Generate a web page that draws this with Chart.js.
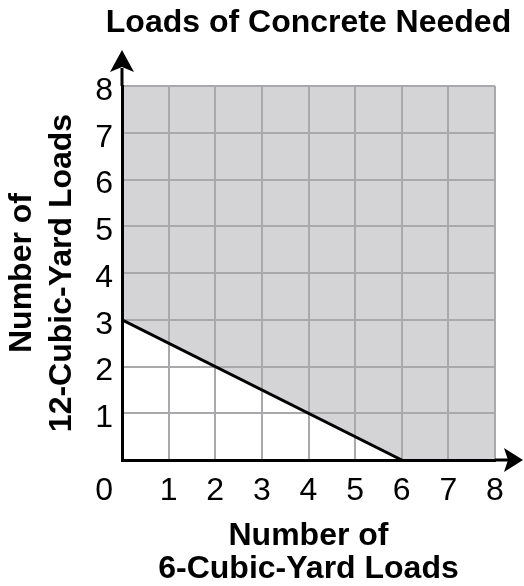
<!DOCTYPE html>
<html>
<head>
<meta charset="utf-8">
<script src="https://cdn.jsdelivr.net/npm/chart.js@4"></script>
<style>
  html, body { margin: 0; padding: 0; background: #fff; }
  #wrap { width: 524px; height: 586px; }
</style>
</head>
<body>
<div id="wrap"><canvas id="chart" width="524" height="586"></canvas></div>
<script>
// boundary of the shaded region: x = 6-yd loads, y = 12-yd loads
const regionX = [0, 6, 8];
const regionY = [3, 0, 0];
const lineX = [0, 6];
const lineY = [3, 0];
const xTicks = [0, 1, 2, 3, 4, 5, 6, 7, 8];
const yTicks = [0, 1, 2, 3, 4, 5, 6, 7, 8];
const chartTitle = 'Loads of Concrete Needed';

const FONT = '"Liberation Sans", Arial, sans-serif';
const TICK_SIZE = 32;
const TICK_PAD = 12;

// title (centred on the plot, wider than it), axis arrows and the lone "0" label
const axesPlugin = {
    id: 'axesArrows',
    afterDraw(chart) {
        const ctx = chart.ctx;
        const area = chart.chartArea;
        const xs = chart.scales.x, ys = chart.scales.y;
        const ox = xs.getPixelForValue(0), oy = ys.getPixelForValue(0);
        const top = ys.getPixelForValue(8), right = xs.getPixelForValue(8);
        ctx.save();
        ctx.fillStyle = '#000';
        ctx.font = 'bold 32px ' + FONT;
        ctx.textAlign = 'center';
        ctx.textBaseline = 'middle';
        ctx.fillText(chartTitle, (area.left + area.right) / 2, 23);

        ctx.strokeStyle = '#000';
        ctx.lineWidth = 3;
        // y axis extension + head
        ctx.beginPath();
        ctx.moveTo(ox, top);
        ctx.lineTo(ox, top - 18);
        ctx.stroke();
        ctx.beginPath();
        ctx.moveTo(ox, top - 36);
        ctx.lineTo(ox + 12, top - 14);
        ctx.lineTo(ox, top - 19);
        ctx.lineTo(ox - 12, top - 14);
        ctx.closePath();
        ctx.fill();
        // x axis extension + head
        ctx.beginPath();
        ctx.moveTo(right, oy);
        ctx.lineTo(right + 14, oy);
        ctx.stroke();
        ctx.beginPath();
        ctx.moveTo(right + 28, oy);
        ctx.lineTo(right + 9, oy - 12);
        ctx.lineTo(right + 13, oy);
        ctx.lineTo(right + 9, oy + 12);
        ctx.closePath();
        ctx.fill();
        // origin label sits under the y labels
        ctx.font = TICK_SIZE + 'px ' + FONT;
        ctx.textAlign = 'right';
        ctx.fillText(String(xTicks[0]), ys.right - 9, xs.top + TICK_PAD + TICK_SIZE * 0.6);
        ctx.restore();
    }
};

const ctx = document.getElementById('chart').getContext('2d');
new Chart(ctx, {
    type: 'line',
    data: {
        datasets: [
            {
                label: 'region',
                data: regionX.map((x, i) => ({ x: x, y: regionY[i] })),
                borderWidth: 0,
                borderColor: 'rgba(0,0,0,0)',
                backgroundColor: '#d4d4d6',
                fill: 'end',
                pointRadius: 0,
                tension: 0
            },
            {
                label: 'boundary',
                data: lineX.map((x, i) => ({ x: x, y: lineY[i] })),
                borderWidth: 3,
                borderColor: '#000',
                fill: false,
                pointRadius: 0,
                tension: 0
            }
        ]
    },
    options: {
        responsive: false,
        animation: false,
        devicePixelRatio: 1,
        layout: { padding: { left: 0, right: 29, top: 86, bottom: 0 } },
        plugins: {
            legend: { display: false },
            tooltip: { enabled: false },
            filler: { drawTime: 'beforeDraw' },
            title: { display: false }
        },
        scales: {
            x: {
                type: 'linear',
                min: 0,
                max: 8,
                afterFit(scale) { scale.height = 126; },
                afterBuildTicks(scale) { scale.ticks = xTicks.map(v => ({ value: v })); },
                ticks: {
                    color: '#000',
                    padding: TICK_PAD,
                    font: { family: FONT, size: TICK_SIZE, lineHeight: 1.2 },
                    callback: v => (v === 0 ? '' : String(v))
                },
                grid: { color: '#a9a9ab', lineWidth: 2, drawTicks: false },
                border: { color: '#000', width: 3 },
                title: {
                    display: true,
                    text: ['Number of', '6-Cubic-Yard Loads'],
                    color: '#000',
                    font: { family: FONT, size: 32, weight: 'bold', lineHeight: 1.03 },
                    padding: { top: 0, bottom: 0 }
                }
            },
            y: {
                type: 'linear',
                min: 0,
                max: 8,
                afterFit(scale) { scale.width = 122; },
                afterBuildTicks(scale) { scale.ticks = yTicks.map(v => ({ value: v })); },
                ticks: {
                    color: '#000',
                    padding: 9,
                    labelOffset: 5,
                    font: { family: FONT, size: TICK_SIZE, lineHeight: 1.2 },
                    callback: v => (v === 0 ? '' : String(v))
                },
                grid: { color: '#a9a9ab', lineWidth: 2, drawTicks: false },
                border: { color: '#000', width: 3 },
                title: {
                    display: true,
                    text: ['Number of', '12-Cubic-Yard Loads'],
                    color: '#000',
                    font: { family: FONT, size: 32, weight: 'bold', lineHeight: 1.25 },
                    padding: { top: 2, bottom: 0 }
                }
            }
        }
    },
    plugins: [axesPlugin]
});
</script>
</body>
</html>
